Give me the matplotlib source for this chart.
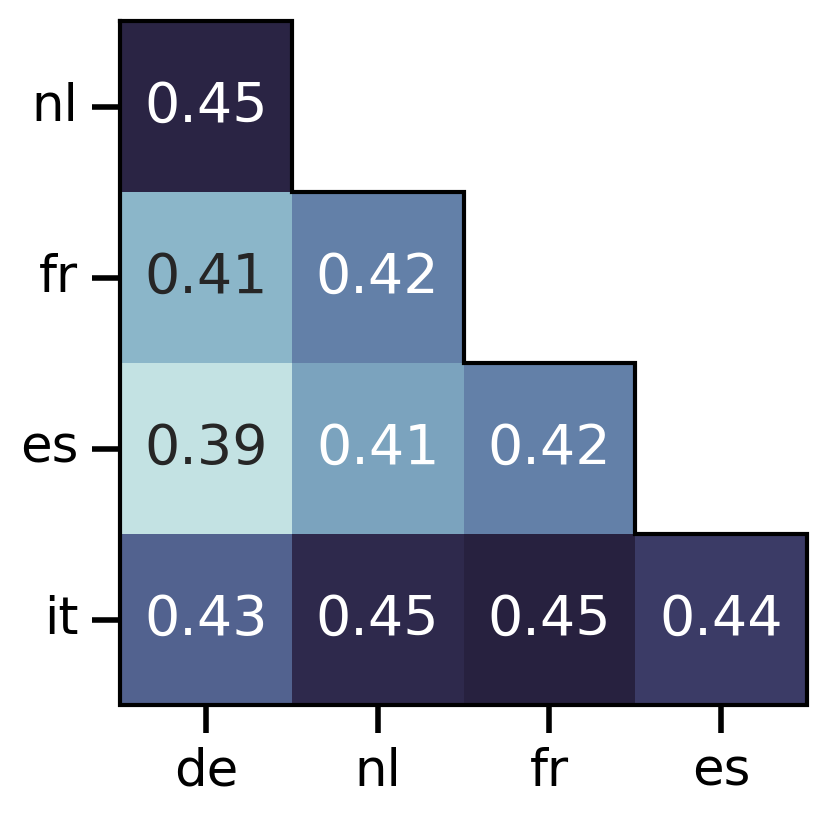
import numpy as np
import matplotlib
matplotlib.use("Agg")
import matplotlib.pyplot as plt
import seaborn as sns

rows = ["nl", "fr", "es", "it"]
cols = ["de", "nl", "fr", "es"]
vals = np.array([
    [0.451, np.nan, np.nan, np.nan],
    [0.406, 0.422, np.nan, np.nan],
    [0.390, 0.412, 0.422, np.nan],
    [0.431, 0.449, 0.452, 0.443],
])
mask = np.isnan(vals)

fig = plt.figure(figsize=(4.15, 4.09), dpi=200)
ax = fig.add_axes([0.1446, 0.1381, 0.8277, 0.8362])
cmap = sns.cubehelix_palette(start=.2, rot=-.3, as_cmap=True)
sns.heatmap(vals, mask=mask, cmap=cmap, annot=True, fmt=".2f", cbar=False,
            xticklabels=cols, yticklabels=rows, ax=ax,
            annot_kws={"fontsize": 20})

# staircase outline around the lower triangle
n = len(rows)
px = [0, 0, n]
py = [0, n, n]
for k in range(n, 0, -1):
    px += [k, k - 1]
    py += [k - 1, k - 1]
px.append(0)
py.append(0)
ax.plot(px, py, color="black", lw=1.5, clip_on=False, solid_joinstyle="miter")

ax.tick_params(axis="both", labelsize=18.5, length=10, width=2, pad=5)
ax.set_yticklabels(rows, rotation=0)
ax.set_xticklabels(cols, rotation=0)

fig.savefig("out.png", dpi=200)
